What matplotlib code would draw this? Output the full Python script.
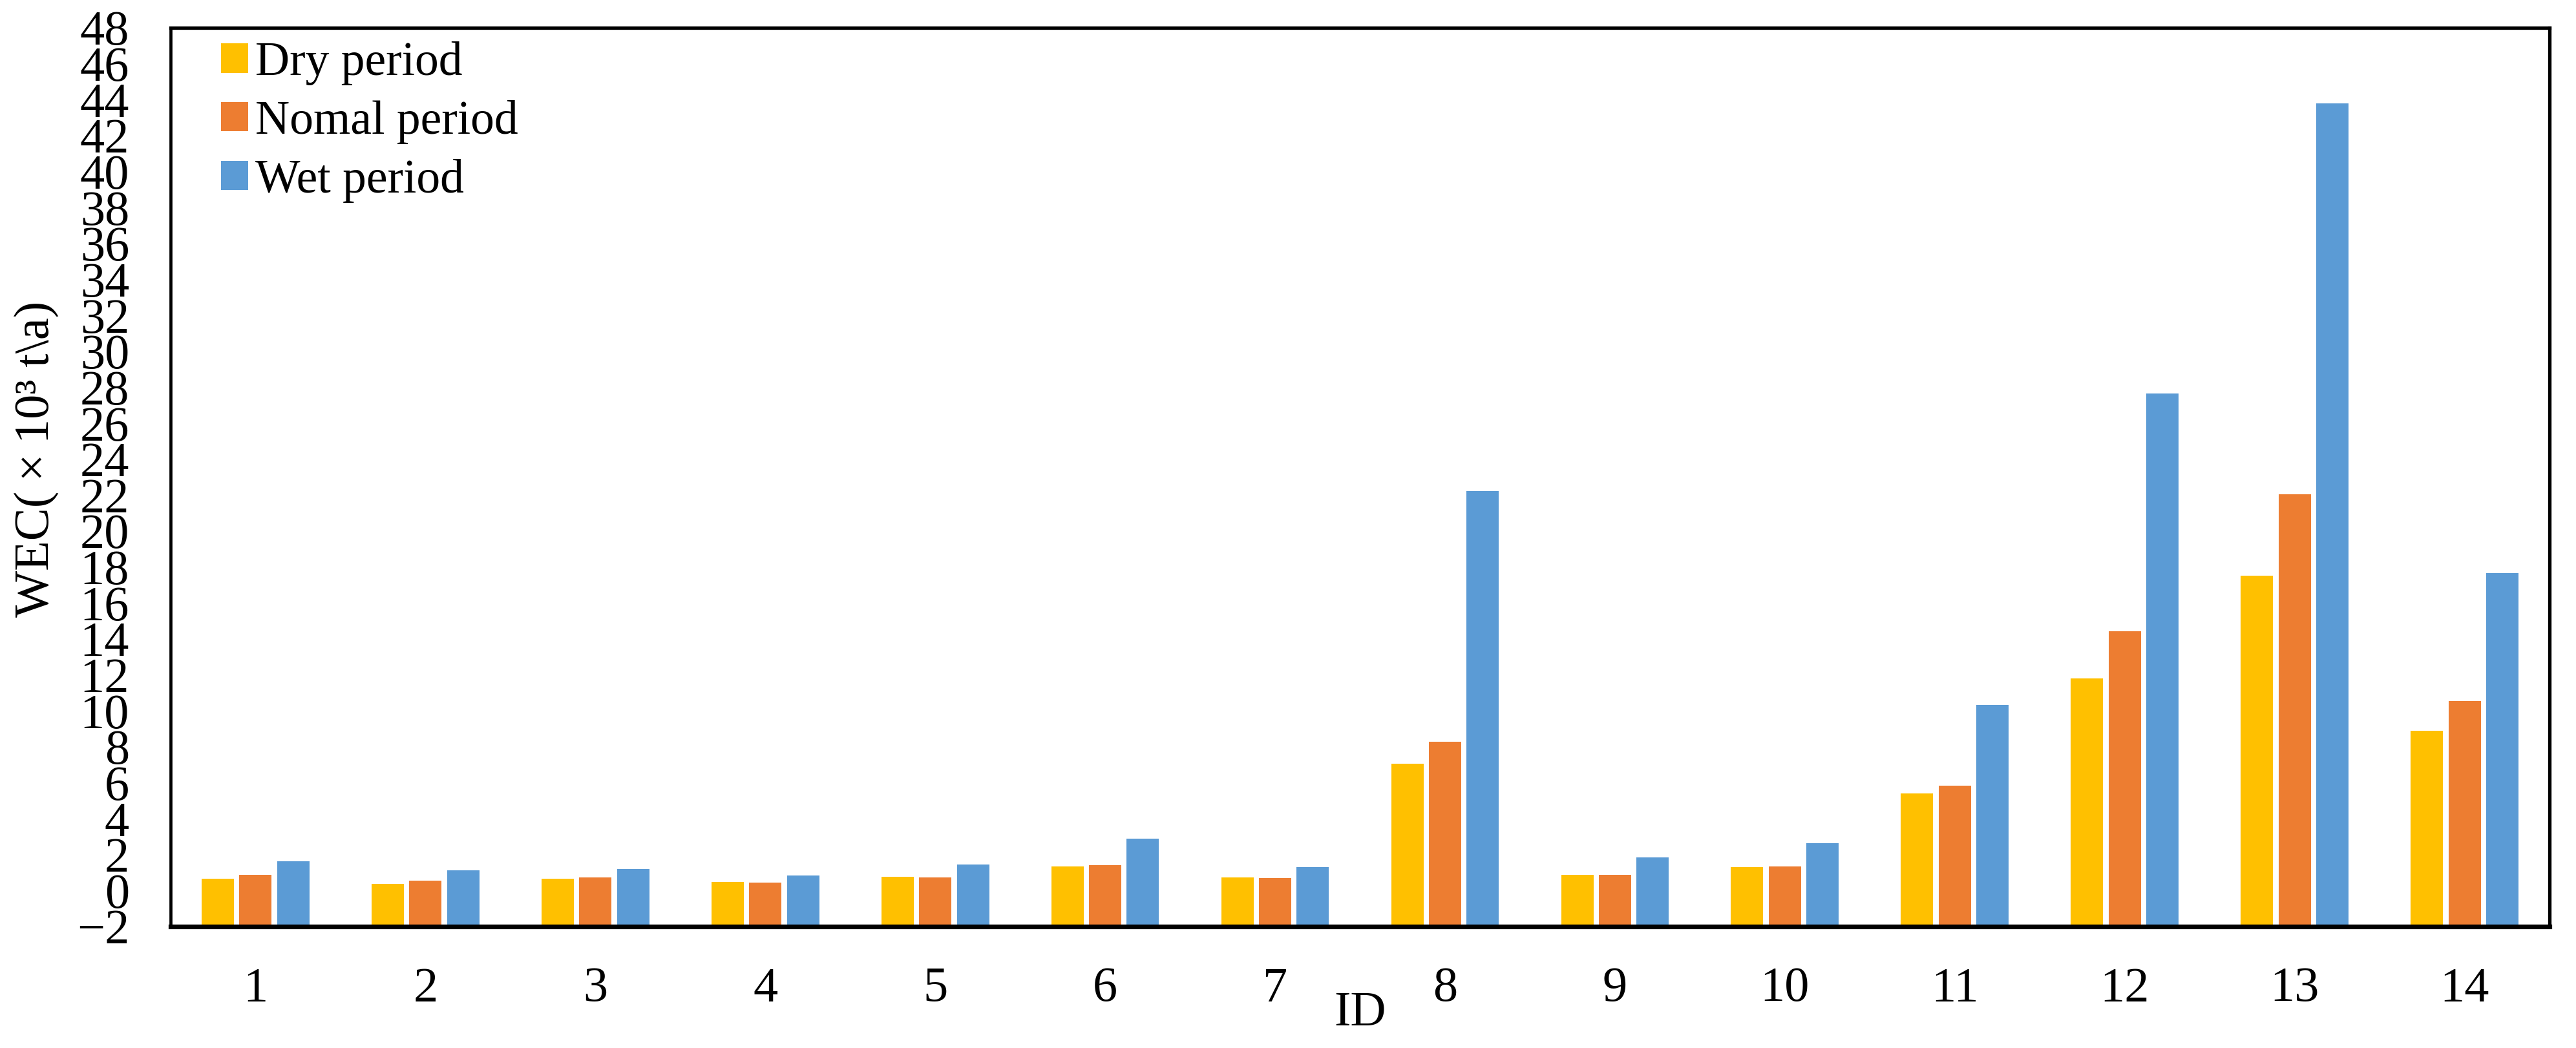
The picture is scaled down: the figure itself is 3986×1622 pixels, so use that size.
import numpy as np
import matplotlib
matplotlib.use("Agg")
import matplotlib.pyplot as plt

# --- Data ---
ids = ["1", "2", "3", "4", "5", "6", "7", "8", "9", "10", "11", "12", "13", "14"]
dry = [0.67, 0.37, 0.67, 0.49, 0.77, 1.35, 0.72, 7.06, 0.89, 1.30, 5.42, 11.79, 17.52, 8.88]
nomal = [0.87, 0.56, 0.72, 0.43, 0.72, 1.42, 0.69, 8.28, 0.89, 1.33, 5.83, 14.41, 22.05, 10.54]
wet = [1.62, 1.11, 1.20, 0.85, 1.45, 2.90, 1.30, 22.24, 1.83, 2.64, 10.32, 27.65, 43.8, 17.67]
series_names = ["Dry period", "Nomal period", "Wet period"]
colors = ["#FFC000", "#ED7D31", "#5B9BD5"]
y_min, y_max = -2, 48

plt.rcParams["font.family"] = ["Liberation Serif", "DejaVu Serif"]
FS = 55

W, H = 3986, 1622
fig = plt.figure(figsize=(W / 100, H / 100), dpi=100)
ax = fig.add_axes([264 / W, 1 - 1434 / H, (3945 - 264) / W, (1434 - 43) / H])

x = np.arange(len(ids))
width = 0.19
step = 0.222
for i, (vals, name, c) in enumerate(zip([dry, nomal, wet], series_names, colors)):
    # Excel draws bars up from the axis line at the minimum (-2)
    heights = np.array(vals) - y_min
    ax.bar(x + (i - 1) * step, heights, width, bottom=y_min, color=c, label=name, zorder=2)

ax.set_xlim(-0.5, len(ids) - 0.5)
ax.set_ylim(y_min, y_max)
ax.set_yticks(np.arange(y_min, y_max + 1, 2))
ax.set_xticks(x)
ax.set_xticklabels(ids)
ax.tick_params(axis="both", length=0, labelsize=FS)
ax.tick_params(axis="x", pad=45)
ax.tick_params(axis="y", pad=46)

for side, lw in [("left", 3.4), ("top", 3.8), ("right", 3.8), ("bottom", 5.2)]:
    ax.spines[side].set_linewidth(lw)
    ax.spines[side].set_color("black")

ax.set_xlabel("ID", fontsize=FS, va="center")
ax.xaxis.set_label_coords(0.5, -0.097)
ax.set_ylabel("WEC(\u2009×\u200910³ t\\a)", fontsize=FS, va="center", ha="center")
ax.yaxis.set_label_coords(-0.0565, 0.52)

ax.legend(loc="upper left", bbox_to_anchor=(342 / W, 1 - 64 / H), bbox_transform=fig.transFigure,
          frameon=False, fontsize=53, borderpad=0, borderaxespad=0, handlelength=0.57,
          handleheight=0.57, handletextpad=0.15, labelspacing=0.31)

fig.savefig("out.png", dpi=100)
